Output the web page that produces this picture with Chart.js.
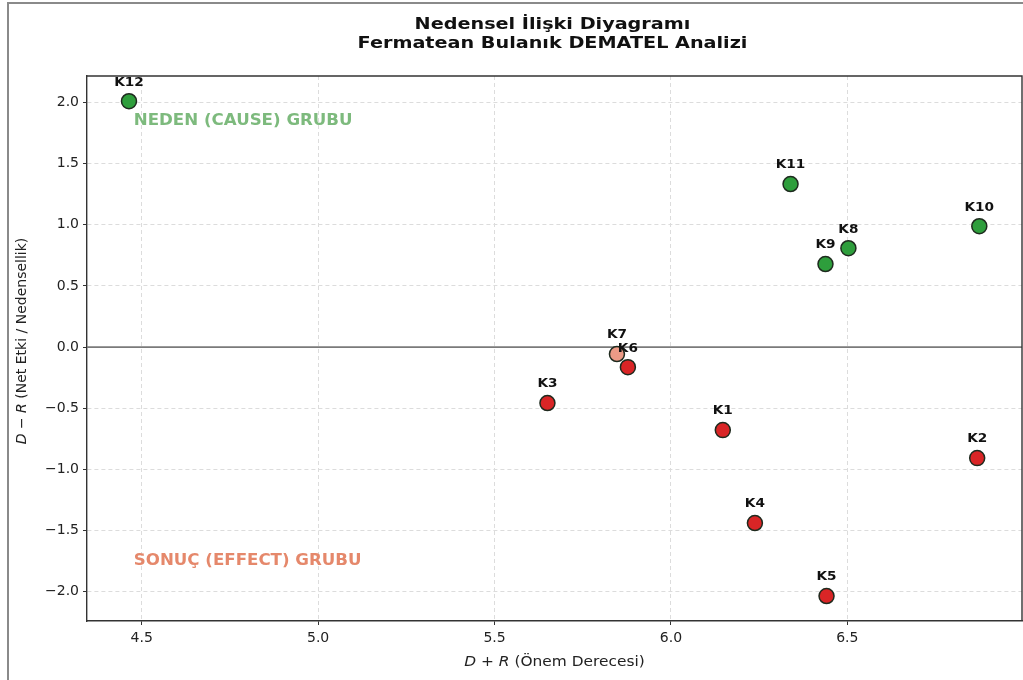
<!DOCTYPE html>
<html>
<head>
<meta charset="utf-8">
<script src="https://cdn.jsdelivr.net/npm/chart.js@4/dist/chart.umd.min.js"></script>
<style>
  body { margin: 0; background: #fff; }
  #c { position: absolute; left: 0; top: 0; }
</style>
</head>
<body>
<canvas id="c" width="1023" height="680"></canvas>
<script>
// criteria and their (D+R, D-R) values
const labels = ["K1", "K2", "K3", "K4", "K5", "K6", "K7", "K8", "K9", "K10", "K11", "K12"];
const dPlusR = [6.147, 6.868, 5.650, 6.238, 6.441, 5.878, 5.847, 6.503, 6.438, 6.874, 6.339, 4.464];
const dMinusR = [-0.679, -0.908, -0.458, -1.439, -2.036, -0.164, -0.057, 0.809, 0.679, 0.989, 1.333, 2.011];
const pointColors = ["#d92526", "#d92526", "#d92526", "#d92526", "#d92526", "#d92526", "#ec9a86",
                     "#2e9e3c", "#2e9e3c", "#2e9e3c", "#2e9e3c", "#2e9e3c"];
const xTicks = [4.5, 5.0, 5.5, 6.0, 6.5];
const yTicks = [-2.0, -1.5, -1.0, -0.5, 0.0, 0.5, 1.0, 1.5, 2.0];

const FONT = "'DejaVu Sans', sans-serif";

function fmt(v) {
    const s = Math.abs(v).toFixed(1);
    return v < 0 ? "\u2212" + s : s;
}

// text a bit wider than normal, like the reference
function wideText(ctx, text, x, y, font, sx, align) {
    ctx.save();
    ctx.font = font;
    ctx.textAlign = align || "center";
    ctx.textBaseline = "middle";
    ctx.translate(x, y);
    ctx.scale(sx, 1);
    ctx.fillText(text, 0, 0);
    ctx.restore();
}

// draw a string made of plain/italic pieces, centered at (0,0)
function drawMixed(ctx, parts, size) {
    let total = 0;
    for (const p of parts) {
        ctx.font = (p.it ? "italic " : "") + size + "px " + FONT;
        p.w = ctx.measureText(p.t).width;
        total += p.w;
    }
    let x = -total / 2;
    ctx.textAlign = "left";
    ctx.textBaseline = "middle";
    for (const p of parts) {
        ctx.font = (p.it ? "italic " : "") + size + "px " + FONT;
        ctx.fillText(p.t, x, 0);
        x += p.w;
    }
}

const extras = {
    id: "extras",
    beforeDraw(chart) {
        const ctx = chart.ctx;
        ctx.save();
        ctx.fillStyle = "#fff";
        ctx.fillRect(0, 0, chart.width, chart.height);
        // outer frame
        ctx.strokeStyle = "#8a8a8a";
        ctx.lineWidth = 2;
        ctx.beginPath();
        ctx.moveTo(8, 680);
        ctx.lineTo(8, 3);
        ctx.lineTo(1023, 3);
        ctx.stroke();
        ctx.restore();
    },
    beforeDatasetsDraw(chart) {
        const ctx = chart.ctx;
        const a = chart.chartArea;
        const y0 = chart.scales.y.getPixelForValue(0);
        ctx.save();
        ctx.strokeStyle = "#7a7a7a";
        ctx.lineWidth = 1.6;
        ctx.beginPath();
        ctx.moveTo(a.left, y0);
        ctx.lineTo(a.right, y0);
        ctx.stroke();
        // top and right spines
        ctx.strokeStyle = "#333";
        ctx.lineWidth = 1.4;
        ctx.beginPath();
        ctx.moveTo(a.left, a.top);
        ctx.lineTo(a.right, a.top);
        ctx.lineTo(a.right, a.bottom);
        ctx.stroke();
        ctx.restore();
    },
    afterDatasetsDraw(chart) {
        const ctx = chart.ctx;
        const a = chart.chartArea;
        const meta = chart.getDatasetMeta(0);
        ctx.save();
        ctx.fillStyle = "#111";
        meta.data.forEach((pt, i) => {
            wideText(ctx, labels[i], pt.x, pt.y - 19, "bold 13px " + FONT, 1.05);
        });
        // group texts
        const gx = a.left + 0.05 * (a.right - a.left);
        ctx.fillStyle = "#7dba7d";
        wideText(ctx, "NEDEN (CAUSE) GRUBU", gx, 121, "bold 16px " + FONT, 1.04, "left");
        ctx.fillStyle = "#e5886b";
        wideText(ctx, "SONU\u00c7 (EFFECT) GRUBU", gx, 561, "bold 16px " + FONT, 1.04, "left");
        ctx.restore();
    },
    afterDraw(chart) {
        const ctx = chart.ctx;
        const a = chart.chartArea;
        const cx = (a.left + a.right) / 2;
        ctx.save();
        ctx.fillStyle = "#111";
        wideText(ctx, "Nedensel \u0130li\u015fki Diyagram\u0131", cx - 2, 25, "bold 16px " + FONT, 1.2);
        wideText(ctx, "Fermatean Bulan\u0131k DEMATEL Analizi", cx - 2, 44, "bold 16px " + FONT, 1.2);
        ctx.fillStyle = "#222";
        ctx.save();
        ctx.translate(cx, 662);
        ctx.scale(1.1, 1);
        drawMixed(ctx, [{t: "D", it: true}, {t: " + "}, {t: "R", it: true}, {t: " (\u00d6nem Derecesi)"}], 14);
        ctx.restore();
        ctx.save();
        ctx.translate(22, 341);
        ctx.rotate(-Math.PI / 2);
        drawMixed(ctx, [{t: "D", it: true}, {t: " \u2212 "}, {t: "R", it: true}, {t: " (Net Etki / Nedensellik)"}], 14);
        ctx.restore();
        ctx.restore();
    }
};

const points = dPlusR.map((x, i) => ({x: x, y: dMinusR[i]}));

const gridOpts = {
    color: "#dcdcdc",
    tickColor: "#333",
    tickBorderDash: [],
    tickLength: 4,
    tickWidth: 1
};

new Chart(document.getElementById("c"), {
    type: "scatter",
    data: {
        datasets: [{
            data: points,
            backgroundColor: pointColors,
            borderColor: "#1e2a1e",
            borderWidth: 1.5,
            pointRadius: 7.5,
            pointHoverRadius: 7.5
        }]
    },
    options: {
        responsive: false,
        animation: false,
        events: [],
        layout: { autoPadding: false, padding: { top: 76, right: 1, left: 0, bottom: 0 } },
        plugins: { legend: { display: false }, tooltip: { enabled: false } },
        scales: {
            x: {
                type: "linear",
                min: 4.345,
                max: 6.995,
                afterFit: s => { s.height = 59; s.paddingLeft = 0; s.paddingRight = 0; },
                afterBuildTicks: s => { s.ticks = xTicks.map(v => ({value: v})); },
                ticks: {
                    callback: v => fmt(v),
                    font: { family: FONT, size: 14 },
                    color: "#222",
                    padding: 5,
                    maxRotation: 0
                },
                grid: gridOpts,
                border: { color: "#333", width: 1.4, dash: [4, 3] }
            },
            y: {
                type: "linear",
                min: -2.24,
                max: 2.217,
                afterFit: s => { s.width = 87; s.paddingTop = 0; s.paddingBottom = 0; },
                afterBuildTicks: s => { s.ticks = yTicks.map(v => ({value: v})); },
                ticks: {
                    callback: v => fmt(v),
                    font: { family: FONT, size: 14 },
                    color: "#222",
                    padding: 4
                },
                grid: gridOpts,
                border: { color: "#333", width: 1.4, dash: [4, 3] }
            }
        }
    },
    plugins: [extras]
});
</script>
</body>
</html>
